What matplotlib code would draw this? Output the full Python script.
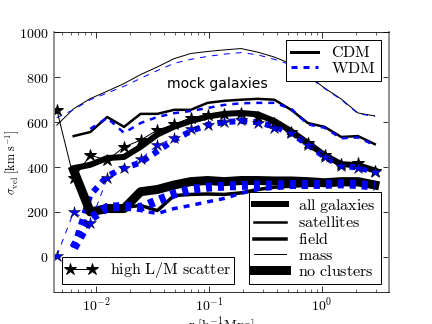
import matplotlib
matplotlib.use('Agg')
import matplotlib.pyplot as plt
from matplotlib.lines import Line2D
import numpy as np

plt.rcParams['mathtext.fontset'] = 'cm'
plt.rcParams['lines.scale_dashes'] = False
plt.rcParams['lines.dashed_pattern'] = [6, 6]

# radial bins [h^-1 Mpc]
r = [0.0045, 0.00635, 0.0089, 0.01256, 0.0177, 0.0248, 0.0349, 0.0491, 0.069, 0.097,
     0.1364, 0.192, 0.27, 0.379, 0.533, 0.75, 1.054, 1.48, 2.08, 2.93]

nan = np.nan
mass_cdm = [587, 660, 705, 738, 772, 812, 846, 883, 906, 915,
            922, 928, 912, 890, 860, 808, 752, 703, 641, 628]
mass_wdm = [620, 656, 700, 730, 760, 795, 830, 862, 880, 893,
            903, 910, 900, 880, 855, 805, 750, 700, 638, 625]
sat_cdm = [nan, 538, 556, 623, 579, 637, 637, 655, 655, 686,
           695, 700, 704, 700, 655, 596, 579, 534, 538, 502]
sat_wdm = [nan, nan, 570, 619, 552, 596, 623, 640, 650, 663,
           677, 684, 686, 686, 660, 590, 575, 528, 532, 497]
all_cdm = [nan, 395, 410, 440, 445, 490, 545, 580, 605, 625,
           637, 641, 635, 605, 560, 507, 453, 413, 408, 385]
all_wdm = [nan, 40, 275, 360, 395, 420, 470, 520, 560, 588,
           600, 605, 600, 580, 550, 500, 445, 405, 398, 378]
field_cdm = [nan, 385, 200, 215, 220, 229, 206, 273, 278, 280,
             278, 285, 300, 310, 315, 318, 320, 322, 322, 315]
field_wdm = [nan, 40, 170, 220, 225, 206, 193, 215, 229, 245,
             260, 283, 300, 305, 310, 312, 315, 318, 318, 312]
nocl_cdm = [nan, 385, 200, 215, 215, 290, 300, 320, 335, 340,
            335, 340, 340, 338, 338, 335, 330, 335, 335, 320]
nocl_wdm = [nan, 40, 170, 220, 225, 220, 250, 280, 300, 310,
            315, 318, 320, 320, 322, 322, 323, 325, 322, 315]
scat_cdm = [655, 350, 453, 430, 489, 520, 565, 590, 619, 630,
            637, 641, 623, 596, 556, 507, 453, 413, 417, 381]
scat_wdm = [5, 200, 150, 350, 395, 435, 498, 529, 569, 587,
            600, 610, 596, 574, 552, 498, 444, 404, 395, 377]

groups = [
    ('all galaxies', all_cdm, all_wdm, 6),
    ('satellites', sat_cdm, sat_wdm, 2.5),
    ('field', field_cdm, field_wdm, 3.5),
    ('mass', mass_cdm, mass_wdm, 1),
    ('no clusters', nocl_cdm, nocl_wdm, 9),
]

fig = plt.figure(figsize=(6, 4.5), dpi=72)
ax = fig.add_axes([0.125, 0.1, 0.775, 0.8])

for name, cdm, wdm, lw in groups:
    ax.plot(r, cdm, color='k', lw=lw, solid_capstyle='projecting')
    ax.plot(r, wdm, color='b', lw=lw, ls='--', dash_capstyle='butt')

ax.plot(r, scat_cdm, color='k', lw=1, marker='*', ms=12, mfc='k', mec='k')
ax.plot(r, scat_wdm, color='b', lw=1, ls='--', marker='*', ms=12, mfc='b', mec='k', mew=0.5)

ax.set_xscale('log')
ax.set_xlim(0.00425, 3.9)
ax.set_ylim(-155, 1000)
ax.set_yticks([0, 200, 400, 600, 800, 1000])
ax.set_yticklabels([r'$%d$' % v for v in [0, 200, 400, 600, 800, 1000]])
ax.set_xticks([0.01, 0.1, 1])
ax.set_xticklabels([r'$10^{-2}$', r'$10^{-1}$', r'$10^{0}$'])
ax.tick_params(which='both', direction='in', top=True, right=True, labelsize=14)
ax.tick_params(which='major', length=6, pad=6)
ax.tick_params(axis='x', which='major', pad=4)
ax.tick_params(which='minor', length=3)
for s in ['left', 'right']:
    ax.spines[s].set_color('#888888')
    ax.spines[s].set_linewidth(1.8)

ax.set_xlabel(r'$\mathrm{r\ [h^{-1}Mpc]}$', fontsize=14, labelpad=0)
ax.set_ylabel(r'$\sigma_{\rm vel}\ [\rm km\ s^{-1}]$', fontsize=12)
ax.yaxis.set_label_coords(-0.095, 0.5)

ax.text(0.118, 771, 'mock galaxies', fontsize=14, ha='center', va='center')

# legends
h1 = [Line2D([], [], color='k', lw=3), Line2D([], [], color='b', lw=3, ls='--')]
leg1 = ax.legend(h1, [r'$\mathrm{CDM}$', r'$\mathrm{WDM}$'], loc='upper right',
                 fontsize=16, handlelength=1.7, labelspacing=0.05, borderpad=0.3,
                 fancybox=False, edgecolor='k', framealpha=1)
leg1.get_frame().set_linewidth(1)
ax.add_artist(leg1)

h2 = [Line2D([], [], color='k', lw=g[3]) for g in groups]
leg2 = ax.legend(h2, [r'$\mathrm{%s}$' % g[0].replace(' ', r'\ ') for g in groups],
                 loc='lower right', fontsize=16, handlelength=2.0, labelspacing=0.05,
                 borderpad=0.3, fancybox=False, edgecolor='k', framealpha=1)
leg2.get_frame().set_linewidth(1)
ax.add_artist(leg2)

h3 = [Line2D([], [], color='k', lw=1, marker='*', ms=12)]
leg3 = ax.legend(h3, [r'$\mathrm{high\ L/M\ scatter}$'], loc='lower left', numpoints=2,
                 fontsize=16, handlelength=2.0, borderpad=0.2, fancybox=False,
                 edgecolor='k', framealpha=1)
leg3.get_frame().set_linewidth(1)

fig.savefig('out.png', dpi=72)
